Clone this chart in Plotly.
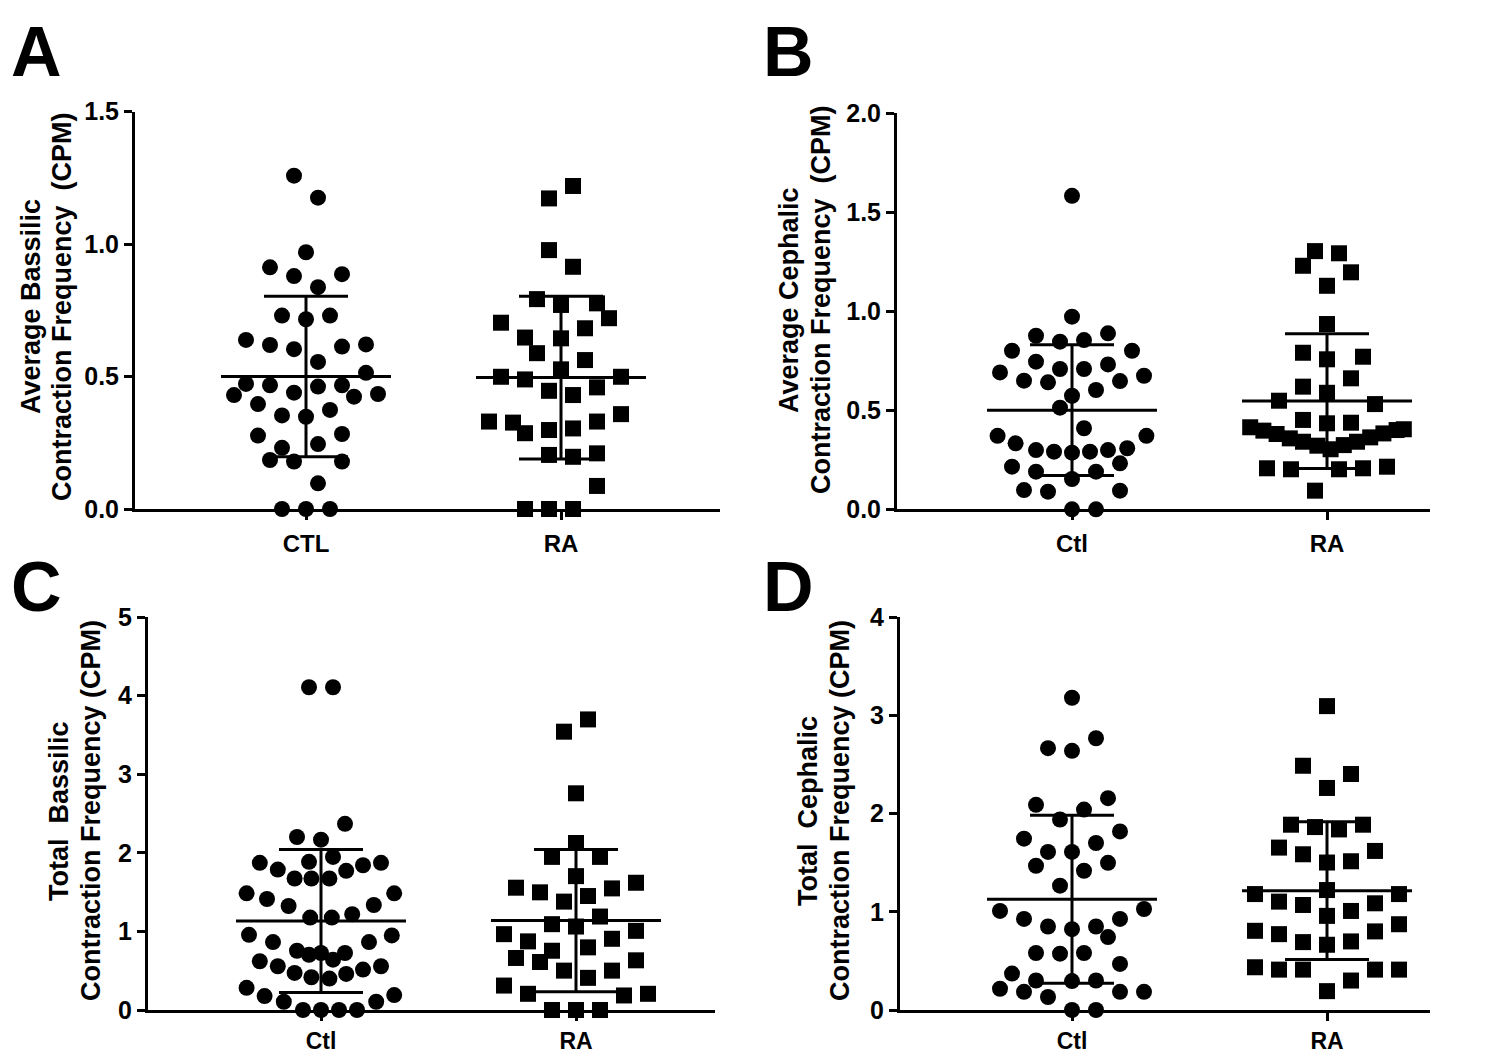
import plotly.graph_objects as go

# ---------------- data ----------------
# x offsets are given in "slots" (half a marker column) around the category centre
a_ctl_vals = [1.258, 1.175, 0.969, 0.912, 0.879, 0.886, 0.837, 0.730, 0.716, 0.730,
              0.638, 0.619, 0.603, 0.613, 0.621, 0.555, 0.514, 0.472, 0.467, 0.462,
              0.467, 0.430, 0.439, 0.424, 0.434, 0.396, 0.353, 0.348, 0.374, 0.277,
              0.283, 0.245, 0.231, 0.185, 0.179, 0.179, 0.097, 0.0, 0.0, 0.0]
a_ctl_slots = [-1, 1, 0, -3, -1, 3, 1, -2, 0, 2, -5, -3, -1, 3, 5, 1, 5, -5, -3, 1,
               3, -6, -1, 4, 6, -4, -2, 0, 2, -4, 3, 1, -2, -3, -1, 3, 1, -2, 0, 2]
a_ra_vals = [1.219, 1.172, 0.977, 0.914, 0.792, 0.770, 0.776, 0.720, 0.703, 0.682,
             0.647, 0.644, 0.588, 0.562, 0.527, 0.499, 0.489, 0.499, 0.446, 0.430,
             0.459, 0.330, 0.326, 0.286, 0.298, 0.304, 0.330, 0.358, 0.204, 0.197,
             0.210, 0.087, 0.0, 0.0, 0.0]
a_ra_slots = [1, -1, -1, 1, -2, 0, 3, 4, -5, 2, -3, 0, -2, 2, 0, -5, -3, 5, -1, 1,
              3, -6, -4, -3, -1, 1, 3, 5, -1, 1, 3, 3, -3, -1, 1]
a_means = [0.50, 0.496]
a_sds = [0.303, 0.307]

b_ctl_vals = [1.582, 0.972, 0.876, 0.846, 0.854, 0.888, 0.800, 0.800, 0.745, 0.708,
              0.708, 0.731, 0.691, 0.649, 0.641, 0.647, 0.674, 0.602, 0.573, 0.513,
              0.409, 0.371, 0.371, 0.333, 0.299, 0.291, 0.286, 0.291, 0.299, 0.308,
              0.215, 0.232, 0.190, 0.190, 0.153, 0.097, 0.089, 0.094, 0.0, 0.0]
b_ctl_slots = [0, 0, -3, -1, 1, 3, -5, 5, -3, -1, 1, 3, -6, -4, -2, 4, 6, 2, 0, -1,
               1, -6.2, 6.2, -4.7, -3, -1.5, 0, 1.5, 3, 4.6, -5, 4, -3, 2, 0, -4, -2, 4, 0, 2]
b_ra_vals = [1.303, 1.292, 1.229, 1.196, 1.128, 0.935, 0.790, 0.770, 0.757, 0.661,
             0.619, 0.588, 0.548, 0.531, 0.451, 0.434, 0.437, 0.414, 0.397, 0.380,
             0.358, 0.341, 0.321, 0.303, 0.324, 0.341, 0.363, 0.383, 0.400, 0.404,
             0.207, 0.202, 0.202, 0.207, 0.215, 0.094]
b_ra_slots = [-1, 1, -2, 2, 0, 0, -2, 3, 0, 2, -2, 0, -4, 4, -2, 0, 2, -6.4, -5.3, -4.2,
              -3.1, -2, -0.8, 0.3, 1.4, 2.5, 3.6, 4.7, 5.8, 6.4, -5, -3, 1, 3, 5, -1]
b_means = [0.50, 0.546]
b_sds = [0.33, 0.34]

c_ctl_vals = [4.106, 4.106, 2.369, 2.201, 2.167, 1.948, 1.872, 1.787, 1.885, 1.771,
              1.842, 1.872, 1.673, 1.673, 1.673, 1.484, 1.412, 1.323, 1.336, 1.484,
              1.176, 1.176, 1.218, 0.956, 0.864, 0.864, 0.949, 0.754, 0.703, 0.725,
              0.640, 0.725, 0.620, 0.557, 0.472, 0.417, 0.400, 0.459, 0.514, 0.557,
              0.282, 0.177, 0.105, 0.105, 0.190, 0.0, 0.0, 0.0, 0.0]
c_ctl_slots = [-1, 1, 2, -2, 0, 1, -5.1, -3.6, -1, 2.1, 3.5, 5, -2.2, -0.8, 0.7, -6.2,
               -4.5, -2.7, 4.4, 6.1, -0.9, 0.9, 2.6, -6, -4, 4, 5.9, -2, -1, 0, 1, 2,
               -5.1, -3.6, -2.2, -0.8, 0.7, 2.1, 3.5, 5, -6.2, -4.7, -3.1, 4.6, 6.1,
               -1.5, 0, 1.5, 3]
c_ra_vals = [3.697, 3.541, 2.757, 2.125, 1.948, 1.948, 1.703, 1.556, 1.497, 1.547,
             1.619, 1.379, 1.450, 1.189, 1.092, 1.062, 0.965, 0.873, 0.754, 0.797,
             0.906, 1.007, 0.662, 0.611, 0.501, 0.409, 0.501, 0.632, 0.311, 0.206,
             0.185, 0.206, 0.0, 0.0, 0.0]
c_ra_slots = [1, -1, 0, 0, -2, 2, 0, -5, -3, 3, 5, -1, 1, 2, -2, 0, -6, -4, -2, 1,
              3, 5, -5, -3, -1, 1, 3, 5, -6, -4, 4, 6, -2, 0, 2]
c_means = [1.133, 1.138]
c_sds = [0.91, 0.905]

d_ctl_vals = [3.178, 2.766, 2.665, 2.638, 2.156, 2.088, 2.040, 1.939, 1.818, 1.744,
              1.700, 1.609, 1.609, 1.498, 1.468, 1.417, 1.265, 1.008, 1.028, 0.927,
              0.927, 0.850, 0.823, 0.850, 0.742, 0.580, 0.573, 0.580, 0.469, 0.371,
              0.300, 0.294, 0.300, 0.216, 0.185, 0.132, 0.185, 0.185, 0.0, 0.0]
d_ctl_slots = [0, 2, -2, 0, 3, -3, 1, -1, 4, -4, 2, -2, 0, 3, -3, 1, -1, -6, 6, -4,
               4, -2, 0, 2, 3, -3, -1, 1, 4, -5, -3, 0, 2, -6, -4, -2, 4, 6, 0, 2]
d_ra_vals = [3.093, 2.486, 2.402, 2.260, 1.886, 1.862, 1.838, 1.886, 1.653, 1.619,
             1.585, 1.501, 1.514, 1.221, 1.180, 1.180, 1.103, 1.069, 1.086, 0.958,
             1.008, 0.873, 0.806, 0.772, 0.800, 0.691, 0.664, 0.698, 0.435, 0.411,
             0.411, 0.411, 0.411, 0.300, 0.192]
d_ra_slots = [0, -2, 2, 0, -3, -1, 1, 3, -4, 4, -2, 0, 2, 0, -6, 6, -4, -2, 4, 0,
              2, 6, -6, -4, 4, -2, 0, 2, -6, -4, -2, 4, 6, 2, 0]
d_means = [1.127, 1.215]
d_sds = [0.856, 0.70]

cats_a = ["CTL", "RA"]
cats_bcd = ["Ctl", "RA"]
yticks_a = [0.0, 0.5, 1.0, 1.5]
yticks_b = [0.0, 0.5, 1.0, 1.5, 2.0]
yticks_c = [0, 1, 2, 3, 4, 5]
yticks_d = [0, 1, 2, 3, 4]

title_lines = [("Average Bassilic", "Contraction Frequency  (CPM)"),
               ("Average Cephalic", "Contraction Frequency  (CPM)"),
               ("Total  Bassilic", "Contraction Frequency (CPM)"),
               ("Total  Cephalic", "Contraction Frequency (CPM)")]
letters = ["A", "B", "C", "D"]

# ---------------- layout / style ----------------
W, H = 1500, 1057
OFF = 8  # default page body margin of the html page
FONT = "Liberation Sans, Arial, sans-serif"
PX_PER_CAT = 255.0
SLOT = 12.0 / PX_PER_CAT
MEAN_HALF = 85.0 / PX_PER_CAT
CAP_HALF = 42.0 / PX_PER_CAT
LW = 3

panels = [
    dict(data=(a_ctl_vals, a_ctl_slots, a_ra_vals, a_ra_slots), means=a_means, sds=a_sds,
         cats=cats_a, yticks=yticks_a, fmt="{:.1f}",
         left=135, right=720, ctl=306, top=111.5, bottom=509, standoff=3, xfs=24,
         t1x=31, t2x=62, ty=307, lx=36, ly=52),
    dict(data=(b_ctl_vals, b_ctl_slots, b_ra_vals, b_ra_slots), means=b_means, sds=b_sds,
         cats=cats_bcd, yticks=yticks_b, fmt="{:.1f}",
         left=897, right=1430, ctl=1072, top=113, bottom=509.3, standoff=3, xfs=24,
         t1x=789, t2x=821, ty=300, lx=788, ly=52),
    dict(data=(c_ctl_vals, c_ctl_slots, c_ra_vals, c_ra_slots), means=c_means, sds=c_sds,
         cats=cats_bcd, yticks=yticks_c, fmt="{:d}",
         left=148, right=715, ctl=321, top=617, bottom=1010, standoff=0, xfs=23,
         t1x=59, t2x=91, ty=811, lx=36, ly=587),
    dict(data=(d_ctl_vals, d_ctl_slots, d_ra_vals, d_ra_slots), means=d_means, sds=d_sds,
         cats=cats_bcd, yticks=yticks_d, fmt="{:d}",
         left=900, right=1430, ctl=1072, top=617, bottom=1010, standoff=0, xfs=23,
         t1x=808, t2x=840, ty=811, lx=788, ly=587),
]


def px_x(v):
    return (v - OFF) / W


def px_y(v):
    return 1 - (v - OFF) / H


fig = go.Figure()
annotations = []
layout_axes = {}

for i, p in enumerate(panels):
    n = "" if i == 0 else str(i + 1)
    xref, yref = "x" + n, "y" + n
    cv, cs, rv, rs = p["data"]
    fig.add_trace(go.Scatter(
        x=[0 + s * SLOT for s in cs], y=cv, mode="markers", xaxis=xref, yaxis=yref,
        marker=dict(symbol="circle", size=16, color="black", line=dict(width=0)),
        cliponaxis=False, showlegend=False, hoverinfo="y"))
    fig.add_trace(go.Scatter(
        x=[1 + s * SLOT for s in rs], y=rv, mode="markers", xaxis=xref, yaxis=yref,
        marker=dict(symbol="square", size=16, color="black", line=dict(width=0)),
        cliponaxis=False, showlegend=False, hoverinfo="y"))
    ex, ey = [], []
    for c, (m, sd) in enumerate(zip(p["means"], p["sds"])):
        lo, hi = max(m - sd, 0), m + sd
        ex += [c - MEAN_HALF, c + MEAN_HALF, None, c, c, None,
               c - CAP_HALF, c + CAP_HALF, None, c - CAP_HALF, c + CAP_HALF, None]
        ey += [m, m, None, lo, hi, None, hi, hi, None, lo, lo, None]
    fig.add_trace(go.Scatter(x=ex, y=ey, mode="lines", xaxis=xref, yaxis=yref,
                             line=dict(color="black", width=LW), cliponaxis=False,
                             showlegend=False, hoverinfo="skip"))

    xr = [(p["left"] - p["ctl"]) / PX_PER_CAT, (p["right"] - p["ctl"]) / PX_PER_CAT]
    yt = p["yticks"]
    layout_axes["xaxis" + n] = dict(
        domain=[px_x(p["left"]), px_x(p["right"])], range=xr, anchor=yref,
        tickvals=[0, 1], ticktext=p["cats"], showline=True, linewidth=LW,
        linecolor="black", ticks="outside", ticklen=8, tickwidth=LW, tickcolor="black",
        showgrid=False, zeroline=False, ticklabelstandoff=p["standoff"], automargin=False,
        tickfont=dict(family=FONT, size=p["xfs"], color="black", weight="bold"))
    layout_axes["yaxis" + n] = dict(
        domain=[px_y(p["bottom"]), px_y(p["top"])], range=[0, yt[-1]], anchor=xref,
        tickvals=yt, ticktext=[p["fmt"].format(v) for v in yt], showline=True,
        linewidth=LW, linecolor="black", ticks="outside", ticklen=8, tickwidth=LW,
        tickcolor="black", showgrid=False, zeroline=False, automargin=False,
        tickfont=dict(family=FONT, size=25, color="black", weight="bold"))

    for txt, tx in zip(title_lines[i], (p["t1x"], p["t2x"])):
        annotations.append(dict(
            text=txt.replace("  ", "&nbsp; "), x=px_x(tx), y=px_y(p["ty"]),
            xref="paper", yref="paper", xanchor="center", yanchor="middle",
            textangle=-90, showarrow=False,
            font=dict(family=FONT, size=27, color="black", weight="bold")))
    annotations.append(dict(
        text=letters[i], x=px_x(p["lx"]), y=px_y(p["ly"]), xref="paper", yref="paper",
        xanchor="center", yanchor="middle", showarrow=False,
        font=dict(family=FONT, size=70, color="black", weight="bold")))

fig.update_layout(
    width=W, height=H, margin=dict(l=0, r=0, t=0, b=0, autoexpand=False),
    paper_bgcolor="white", plot_bgcolor="white",
    annotations=annotations, showlegend=False, **layout_axes)

fig.write_html("out.html")
